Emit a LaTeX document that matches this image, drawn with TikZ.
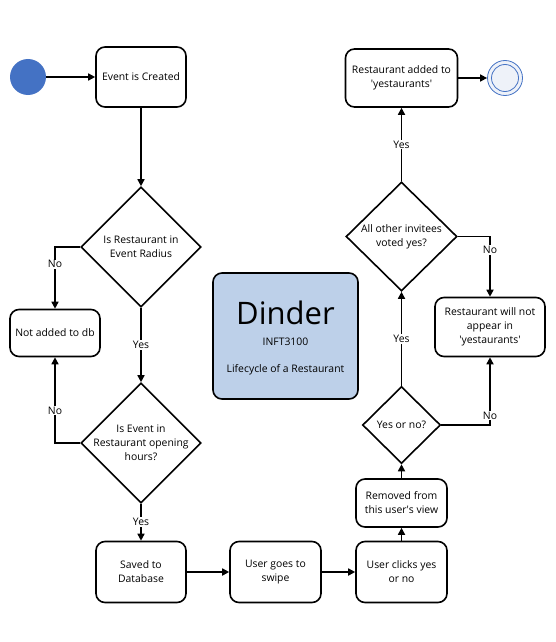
\documentclass[tikz,border=0pt]{standalone}
\usepackage{fontspec}
\setmainfont{Open Sans}
\usetikzlibrary{shapes.geometric,arrows.meta}
\definecolor{startblue}{RGB}{68,114,196}
\definecolor{dinderfill}{RGB}{189,208,233}
\definecolor{endfill}{RGB}{238,242,249}
\newcommand{\sq}{\textquotesingle}
\begin{document}
\begin{tikzpicture}[x=1pt,y=-1pt,
  every node/.style={font=\fontsize{10.4}{14}\selectfont, align=center},
  box/.style={draw=black, line width=1.6pt, rounded corners=9pt, inner sep=0pt},
  dia/.style={draw=black, line width=1.6pt, diamond, inner sep=0pt, shape aspect=1},
  arr/.style={line width=1.6pt, -{Triangle[length=7pt,width=7pt]}},
  lbl/.style={fill=white, inner sep=1pt}
]
\useasboundingbox (0,0) rectangle (556,642);
% nodes
\node[circle, fill=startblue, minimum size=36pt, inner sep=0pt] (start) at (28,77) {};
\node[box, minimum width=90pt, minimum height=60pt] (ev) at (141,77) {Event is Created};
\node[dia, minimum width=120pt, minimum height=120pt] (d1) at (141,247) {};
\node at (141,247) {Is Restaurant in\\Event Radius};
\node[box, minimum width=90pt, minimum height=47pt] (nadb) at (55,333) {Not added to db};
\node[dia, minimum width=120pt, minimum height=120pt] (d2) at (141,443) {};
\node at (141,443) {Is Event in\\Restaurant opening\\hours?};
\node[box, minimum width=90pt, minimum height=61pt] (saved) at (141,572) {Saved to\\Database};
\node[box, minimum width=91pt, minimum height=61pt] (swipe) at (275.5,572) {User goes to\\swipe};
\node[box, minimum width=91pt, minimum height=61pt] (clicks) at (401.5,572) {User clicks yes\\or no};
\node[box, minimum width=91pt, minimum height=48pt] (removed) at (401.5,503) {Removed from\\this user\sq s view};
\node[dia, minimum width=78pt, minimum height=77pt] (d4) at (401.5,425) {};
\node at (401.5,425) {Yes or no?};
\node[box, minimum width=110pt, minimum height=59pt] (notap) at (490,327) {Restaurant will not\\appear in\\\sq yestaurants\sq};
\node[dia, minimum width=111pt, minimum height=109pt] (d3) at (401.5,236.5) {};
\node at (401.5,236.5) {All other invitees\\voted yes?};
\node[box, minimum width=112pt, minimum height=58pt] (added) at (401.5,78) {Restaurant added to\\\sq yestaurants\sq};
\node[circle, draw=startblue, line width=0.8pt, fill=endfill, minimum size=35pt, inner sep=0pt] (end) at (505,78) {};
\node[circle, draw=startblue, line width=0.8pt, minimum size=27pt, inner sep=0pt] (endin) at (505,78) {};
\node[box, fill=dinderfill, minimum width=145pt, minimum height=126pt] (dinder) at (285.5,336) {};
\node[font=\fontsize{31}{31}\selectfont] (title) at (285.5,313) {Dinder};
\node (code) at (285.5,342) {INFT3100};
\node (sub) at (285.5,370) {Lifecycle of a Restaurant};
% connectors
\draw[arr] (start) -- (ev);
\draw[arr] (ev) -- (d1.north);
\draw[arr] (d1.west) -| node[lbl, pos=0.64] {No} (nadb.north);
\draw[arr] (d1.south) -- node[lbl] {Yes} (d2.north);
\draw[arr] (d2.west) -| node[lbl, pos=0.69] {No} (nadb.south);
\draw[arr] (d2.south) -- node[lbl] {Yes} (saved.north);
\draw[arr] (saved) -- (swipe);
\draw[arr] (swipe) -- (clicks);
\draw[arr] (clicks) -- (removed);
\draw[arr] (removed) -- (d4.south);
\draw[arr] (d4.east) -| node[lbl, pos=0.57] {No} (notap.south);
\draw[arr] (d4.north) -- node[lbl] {Yes} (d3.south);
\draw[arr] (d3.east) -| node[lbl, pos=0.61] {No} (notap.north);
\draw[arr] (d3.north) -- node[lbl] {Yes} (added.south);
\draw[arr] (added) -- (end);
\end{tikzpicture}
\end{document}
